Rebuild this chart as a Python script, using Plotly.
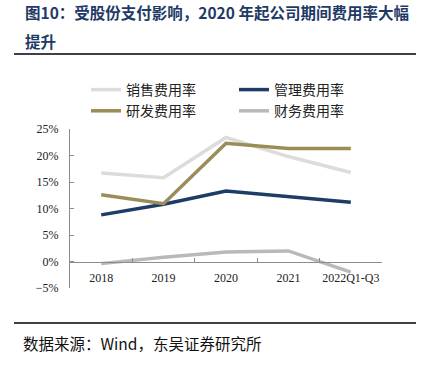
import plotly.graph_objects as go

categories = ["2018", "2019", "2020", "2021", "2022Q1-Q3"]
sales_rate = [16.7, 15.8, 23.4, 19.8, 16.8]
admin_rate = [8.8, 10.8, 13.3, 12.3, 11.2]
rd_rate = [12.6, 10.9, 22.3, 21.3, 21.3]
fin_rate = [-0.4, 0.8, 1.8, 2.0, -2.0]

series = [
    ("销售费用率", sales_rate, "#dcdcdc"),
    ("管理费用率", admin_rate, "#1f3c68"),
    ("研发费用率", rd_rate, "#9b8d57"),
    ("财务费用率", fin_rate, "#b9b9b9"),
]

W, H = 424, 376
L, R, T, B = 70, 42, 129, 88
PW, PH = W - L - R, H - T - B


def px_x(x):
    return (x - L) / PW


def px_y(y):
    return (H - B - y) / PH


fig = go.Figure()
for name, vals, color in series:
    fig.add_trace(go.Scatter(x=categories, y=vals, name=name, mode="lines",
                             line=dict(color=color, width=3.5)))

serif = "Liberation Serif, Times New Roman, serif"
cjk = "Noto Sans CJK SC"

fig.update_layout(
    width=W, height=H,
    margin=dict(l=L, r=R, t=T, b=B),
    paper_bgcolor="white", plot_bgcolor="white",
    showlegend=True,
    legend=dict(orientation="h", x=px_x(86), xanchor="left", y=px_y(74), yanchor="top",
                entrywidth=103, entrywidthmode="pixels",
                font=dict(family=cjk, size=14, color="#222"),
                bgcolor="rgba(0,0,0,0)"),
    xaxis=dict(type="category", anchor="free", position=1 / 6,
               range=[-0.5, len(categories) - 0.5],
               showline=True, linecolor="#8c8c8c", linewidth=1,
               ticks="inside", tickson="boundaries", ticklen=4, tickcolor="#8c8c8c",
               showgrid=False, zeroline=False, tickangle=0,
               tickfont=dict(family=serif, size=12, color="#222"),
               ticklabelstandoff=5),
    yaxis=dict(range=[-5, 25], dtick=5, ticksuffix="%",
               showline=True, linecolor="#8c8c8c", linewidth=1,
               ticks="inside", ticklen=4, tickcolor="#8c8c8c",
               showgrid=False, zeroline=False,
               tickfont=dict(family=serif, size=12, color="#222"),
               ticklabelstandoff=8),
)

title_color = "#1f3a66"
fig.add_annotation(text="<b>图10：受股份支付影响，2020 年起公司期间费用率大幅</b>",
                   xref="paper", yref="paper", x=px_x(23), y=px_y(12),
                   xanchor="left", yanchor="middle", showarrow=False,
                   font=dict(family=cjk, size=15.5, color=title_color))
fig.add_annotation(text="<b>提升</b>",
                   xref="paper", yref="paper", x=px_x(23), y=px_y(41),
                   xanchor="left", yanchor="middle", showarrow=False,
                   font=dict(family=cjk, size=15.5, color=title_color))
fig.add_annotation(text="数据来源：Wind，东吴证券研究所",
                   xref="paper", yref="paper", x=px_x(21), y=px_y(343),
                   xanchor="left", yanchor="middle", showarrow=False,
                   font=dict(family=cjk, size=15.5, color="#111"))

for yy in (54, 323):
    fig.add_shape(type="line", xref="paper", yref="paper",
                  x0=px_x(14), x1=px_x(416), y0=px_y(yy), y1=px_y(yy),
                  line=dict(color="black", width=1.5))

fig.write_html("out.html", config={"displayModeBar": False},
               post_script="document.body.style.margin='0px';document.body.style.overflow='hidden';")
